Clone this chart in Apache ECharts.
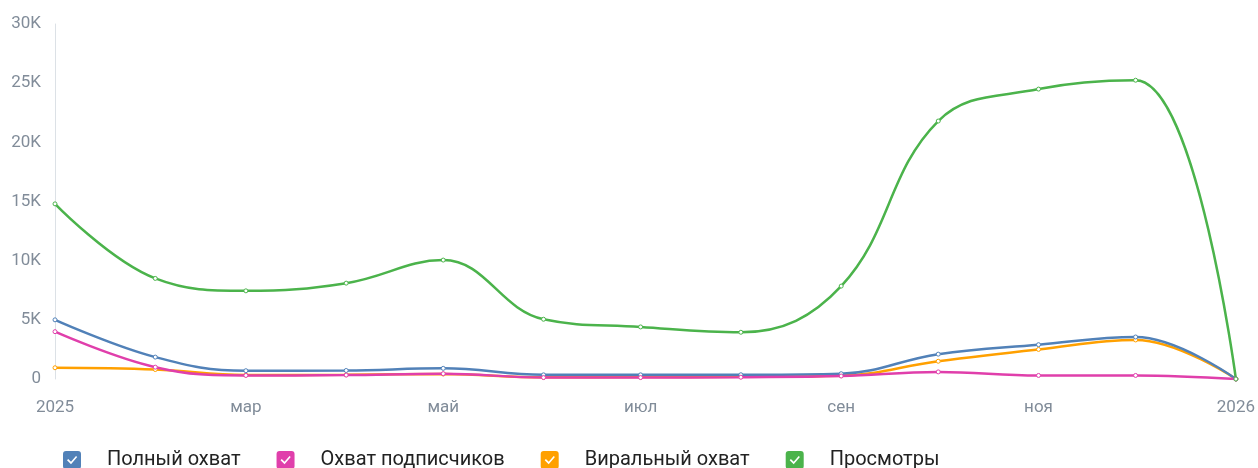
<!DOCTYPE html>
<html>
<head>
<meta charset="utf-8">
<script src="https://cdn.jsdelivr.net/npm/echarts@6/dist/echarts.min.js"></script>
<style>
  html, body { margin: 0; padding: 0; background: #fff; }
  #chart_wrap { width: 1258px; height: 468px; }
</style>
</head>
<body>
<div id="chart_wrap"></div>
<script>
// даты точек (первое число месяца)
var dates = ['2025-01-01', '2025-02-01', '2025-03-01', '2025-04-01', '2025-05-01', '2025-06-01',
    '2025-07-01', '2025-08-01', '2025-09-01', '2025-10-01', '2025-11-01', '2025-12-01', '2026-01-01'];
var fullReach = [5000, 1850, 700, 720, 900, 350, 350, 360, 450, 2100, 2900, 3550, 0];
var subsReach = [4000, 1000, 300, 330, 450, 120, 120, 150, 250, 600, 300, 300, 0];
var viralReach = [950, 800, 330, 360, 420, 150, 170, 190, 280, 1500, 2500, 3300, 0];
var views = [14800, 8500, 7450, 8100, 10050, 5050, 4400, 3950, 7850, 21800, 24500, 25250, 0];
var seriesNames = ['Полный охват', 'Охват подписчиков', 'Виральный охват', 'Просмотры'];
var seriesColors = ['#5181b8', '#e03fab', '#ffa000', '#4bb34b'];
var monthNames = ['янв', 'фев', 'мар', 'апр', 'май', 'июн', 'июл', 'авг', 'сен', 'окт', 'ноя', 'дек'];

function pairs(values) {
    return values.map(function (v, i) { return [dates[i], v]; });
}

// чекбокс с вырезанной галочкой
var checkIcon = 'path://M3 0H15Q18 0 18 3V15Q18 18 15 18H3Q0 18 0 15V3Q0 0 3 0Z' +
    'M4 9.3L8 13.2L14.2 6.1L13 5L8 10.7L5.2 8.1Z';

var chart = echarts.init(document.getElementById('chart_wrap'));

function lineSeries(i, values) {
    var color = seriesColors[i];
    return {
        name: seriesNames[i],
        type: 'line',
        smooth: 0.4,
        data: pairs(values),
        symbol: 'circle',
        symbolSize: 4,
        showSymbol: true,
        lineStyle: {width: 2.5, color: color},
        itemStyle: {color: '#fff', borderColor: color, borderWidth: 1},
        emphasis: {disabled: true}
    };
}

var option = {
    animation: false,
    color: seriesColors,
    grid: {left: 55, right: 20, top: 24, bottom: 89},
    legend: {
        left: 58,
        top: 445,
        icon: checkIcon,
        itemWidth: 18,
        itemHeight: 18,
        itemGap: 36,
        textStyle: {color: '#222', fontSize: 20, fontFamily: 'Roboto', padding: [0, 0, 0, 21]},
        data: seriesNames.map(function (n, i) {
            return {name: n, itemStyle: {color: seriesColors[i], borderWidth: 0}};
        })
    },
    xAxis: {
        type: 'time',
        min: '2025-01-01',
        max: '2026-01-01',
        splitNumber: 12,
        axisLine: {show: false},
        axisTick: {show: false},
        splitLine: {show: false},
        axisLabel: {
            color: '#818c99',
            fontSize: 17,
            fontFamily: 'Roboto',
            margin: 20,
            showMinLabel: true,
            showMaxLabel: true,
            hideOverlap: false,
            formatter: function (value) {
                var d = new Date(value);
                var m = d.getMonth();
                if (d.getDate() !== 1) return '';
                if (m === 0) return String(d.getFullYear());
                if (m % 2 === 1) return '';
                return monthNames[m];
            }
        }
    },
    yAxis: {
        type: 'value',
        min: 0,
        max: 30000,
        interval: 5000,
        axisLine: {show: true, lineStyle: {color: '#dce1e6'}},
        axisTick: {show: false},
        splitLine: {show: false},
        axisLabel: {
            color: '#818c99',
            fontSize: 17,
            fontFamily: 'Roboto',
            margin: 14,
            formatter: function (v) { return v === 0 ? '0' : (v / 1000) + 'K'; }
        }
    },
    series: [
        lineSeries(0, fullReach),
        lineSeries(1, subsReach),
        lineSeries(2, viralReach),
        lineSeries(3, views)
    ]
};
// оранжевая линия под синей
option.series[2].z = 1;
chart.setOption(option);
</script>
</body>
</html>
